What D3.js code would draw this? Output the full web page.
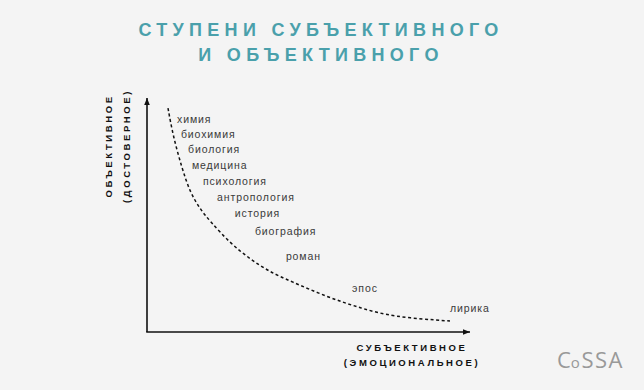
<!DOCTYPE html>
<html><head><meta charset="utf-8">
<script src="https://cdn.jsdelivr.net/npm/d3@7"></script>
<style>
html,body{margin:0;padding:0;background:#f4f4f4;}
svg{display:block;}
</style></head>
<body>
<svg id="c" width="644" height="390"></svg>
<script>
const titleLines = ["СТУПЕНИ СУБЪЕКТИВНОГО", "И ОБЪЕКТИВНОГО"];
const yAxisLabel = ["ОБЪЕКТИВНОЕ", "(ДОСТОВЕРНОЕ)"];
const xAxisLabel = ["СУБЪЕКТИВНОЕ", "(ЭМОЦИОНАЛЬНОЕ)"];
const categories = ["химия","биохимия","биология","медицина","психология","антропология","история","биография","роман","эпос","лирика"];
const catX = [9.3, 10.5, 12.7, 13.9, 17.3, 21.7, 27.2, 33.4, 43.0, 63.5, 93.8];
const catY = [89.3, 82.9, 76.5, 69.7, 62.8, 56.0, 49.1, 41.5, 30.8, 17.1, 8.5];
const curveX = [6.5, 8.0, 10.8, 13.3, 16.4, 19.5, 25.7, 31.9, 38.1, 44.3, 55.7, 65.9, 76.2, 93.8];
const curveY = [95.7, 84.2, 70.1, 59.8, 52.6, 47.4, 38.0, 31.2, 25.6, 21.8, 15.0, 10.3, 6.4, 4.7];

const svg = d3.select("#c");
const x = d3.scaleLinear().domain([0,100]).range([147,470]);
const y = d3.scaleLinear().domain([0,100]).range([332,98]);

// title
const teal = "#4aa0ab";
svg.append("g").selectAll("text").data(titleLines).join("text")
  .attr("x", 321).attr("y", (d,i)=> i===0 ? 36 : 61)
  .attr("text-anchor","middle")
  .attr("fill", teal)
  .style("font-family","'Liberation Sans', Arial, sans-serif")
  .style("font-weight","700").style("font-size","18px")
  .style("letter-spacing","5.3px")
  .text(d=>d);

// arrow marker
svg.append("defs").append("marker")
  .attr("id","arr").attr("viewBox","0 0 10 10").attr("refX",10).attr("refY",5)
  .attr("markerWidth",7).attr("markerHeight",7).attr("markerUnits","userSpaceOnUse")
  .attr("orient","auto")
  .append("path").attr("d","M0,1 L10,5 L0,9 Z").attr("fill","#111");

// axes
svg.append("line").attr("x1",x(0)).attr("y1",y(0)).attr("x2",x(0)).attr("y2",y(100))
  .attr("stroke","#111").attr("stroke-width",1.6).attr("marker-end","url(#arr)");
svg.append("line").attr("x1",x(0)-0.8).attr("y1",y(0)).attr("x2",x(100)).attr("y2",y(0))
  .attr("stroke","#111").attr("stroke-width",1.6).attr("marker-end","url(#arr)");

// dashed curve
const pts = curveX.map((v,i)=>[v, curveY[i]]);
svg.append("path").datum(pts)
  .attr("d", d3.line().x(d=>x(d[0])).y(d=>y(d[1])).curve(d3.curveBasis))
  .attr("fill","none").attr("stroke","#111").attr("stroke-width",1.5)
  .attr("stroke-dasharray","3,2.6");

// category labels
svg.append("g").selectAll("text").data(categories).join("text")
  .attr("x",(d,i)=>x(catX[i])).attr("y",(d,i)=>y(catY[i]))
  .attr("fill","#3a3a3a")
  .style("font-family","'Liberation Sans', Arial, sans-serif")
  .style("font-size","10.5px").style("letter-spacing","0.9px")
  .text(d=>d);

// axis labels
const axFont = g => g.attr("fill","#111")
  .style("font-family","'Liberation Sans', Arial, sans-serif")
  .style("font-weight","700").style("font-size","9.5px")
  .style("letter-spacing","2.6px").attr("text-anchor","middle");
svg.append("g").selectAll("text").data(yAxisLabel).join("text")
  .attr("transform",(d,i)=>`translate(${i===0?111.5:130},146) rotate(-90)`)
  .call(axFont).text(d=>d);
svg.append("g").selectAll("text").data(xAxisLabel).join("text")
  .attr("x",412).attr("y",(d,i)=> i===0 ? 351 : 366)
  .call(axFont).text(d=>d);

// logo
const logo = svg.append("text").attr("x",557).attr("y",368).attr("fill","#999")
  .style("font-family","'Open Sans', sans-serif").style("font-weight","400").style("font-size","22px");
logo.append("tspan").text("C");
logo.append("tspan").style("font-size","15px").attr("dx",0).text("o");
logo.append("tspan").attr("dx",1.5).style("letter-spacing","1.5px").text("SSA");
</script>
</body></html>
